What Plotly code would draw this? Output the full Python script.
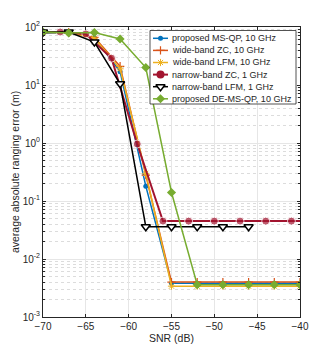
import plotly.graph_objects as go

# SNR grids (dB) at which each curve was sampled / marked
snr_a = [-70, -67, -64, -61, -58, -55, -52, -49, -46, -43, -40]
snr_red = [-68, -65, -62, -59, -56, -53, -50, -47, -44, -41, -40]
snr_black = [-70, -67, -64, -61, -58, -55, -52, -49, -46]

ms_qp = [78, 80, 65, 17, 0.18, 0.0038, 0.0038, 0.0038, 0.0038, 0.0038, 0.0038]
wide_zc = [80, 81, 66, 21, 0.28, 0.0040, 0.0040, 0.0040, 0.0040, 0.0040, 0.0040]
wide_lfm = [80, 80, 64, 19, 0.30, 0.0034, 0.0034, 0.0034, 0.0034, 0.0034, 0.0034]
narrow_zc = [82, 76, 29, 0.96, 0.045, 0.045, 0.045, 0.045, 0.045, 0.045, 0.045]
narrow_lfm = [82, 82, 55, 10.5, 0.036, 0.036, 0.036, 0.036, 0.036]
de_ms_qp = [82, 79, 80, 62, 20, 0.14, 0.0036, 0.0036, 0.0036, 0.0036, 0.0036]

names = ["proposed MS-QP, 10 GHz", "wide-band ZC, 10 GHz", "wide-band LFM, 10 GHz",
         "narrow-band ZC, 1 GHz", "narrow-band LFM, 1 GHz", "proposed DE-MS-QP, 10 GHz"]

ytick_vals = [1e-3, 1e-2, 1e-1, 1, 10, 100]
ytick_text = ["10<sup>-3</sup>", "10<sup>-2</sup>", "10<sup>-1</sup>",
              "10<sup>0</sup>", "10<sup>1</sup>", "10<sup>2</sup>"]

# red curve: marker every 3 dB only (last sample at -40 has none)
red_sizes = [8 if (x - snr_red[0]) % 3 == 0 else 0 for x in snr_red]

# styles, same order as names
styles = [
    dict(line=dict(color='#0072BD', width=1.5),
         marker=dict(symbol='circle', size=5, color='#0072BD')),
    dict(line=dict(color='#D95319', width=1.5),
         marker=dict(symbol='cross-thin', size=6, line=dict(color='#D95319', width=1.2))),
    dict(line=dict(color='#EDB120', width=1.5),
         marker=dict(symbol='asterisk', size=6, line=dict(color='#EDB120', width=1))),
    dict(line=dict(color='#A2142F', width=2),
         marker=dict(symbol='circle', size=8, color='#A2142F')),
    dict(line=dict(color='black', width=1.5),
         marker=dict(symbol='triangle-down', size=8, color='white',
                     line=dict(color='black', width=1.5))),
    dict(line=dict(color='#77AC30', width=1.5),
         marker=dict(symbol='diamond', size=7, color='#77AC30')),
]
series = [(snr_a, ms_qp), (snr_a, wide_zc), (snr_a, wide_lfm),
          (snr_red, narrow_zc), (snr_black, narrow_lfm), (snr_a, de_ms_qp)]

fig = go.Figure()
for (xs, ys), name, st in zip(series, names, styles):
    fig.add_trace(go.Scatter(x=xs, y=ys, name=name, mode='lines+markers', showlegend=False, **st))
fig.data[3].marker.size = red_sizes

# hand-made legend (matlab-style compact rows), in plot-area fractions
W, H = 257.0, 290.0           # plot area size in px
bx0, bx1 = 107 / W, 253 / W   # legend box
by1, by0 = 1 - 3.5 / H, 1 - 77 / H
row0, row_step = 1 - 11.3 / H, 12.1 / H
lx0, lx1, tx = 110 / W, 125 / W, 127 / W

fig.add_trace(go.Scatter(x=[bx0, bx1, bx1, bx0, bx0], y=[by0, by0, by1, by1, by0],
                         xaxis='x2', yaxis='y2', mode='lines', fill='toself',
                         fillcolor='white', line=dict(color='#262626', width=0.8),
                         showlegend=False, hoverinfo='skip'))
for i, (name, st) in enumerate(zip(names, styles)):
    yy = row0 - i * row_step
    fig.add_trace(go.Scatter(x=[lx0, lx1], y=[yy, yy], xaxis='x2', yaxis='y2',
                             mode='lines', line=st['line'], showlegend=False, hoverinfo='skip'))
    fig.add_trace(go.Scatter(x=[(lx0 + lx1) / 2], y=[yy], xaxis='x2', yaxis='y2',
                             mode='markers', marker=st['marker'], showlegend=False, hoverinfo='skip'))
    fig.add_annotation(x=tx, y=yy, xref='paper', yref='paper', text=name, showarrow=False,
                       xanchor='left', yanchor='middle', font=dict(size=9, color='#262626'))

# page body has an 8px margin, so the figure is 8px smaller and margins shifted
fig.update_layout(
    width=324, height=349,
    margin=dict(l=35, r=32, t=19, b=40),
    paper_bgcolor='white', plot_bgcolor='white',
    font=dict(family='Liberation Sans, Arial', size=10, color='#262626'),
    showlegend=False,
    xaxis=dict(range=[-70, -40], tickvals=[-70, -65, -60, -55, -50, -45, -40],
               title=dict(text='SNR (dB)', font=dict(size=10.5), standoff=1),
               showgrid=True, gridcolor='#e6e6e6', gridwidth=1,
               ticks='inside', ticklen=3, tickcolor='#262626',
               showline=True, linecolor='#262626', linewidth=1, mirror='ticks',
               zeroline=False, automargin=False),
    yaxis=dict(type='log', range=[-3, 2], tickvals=ytick_vals, ticktext=ytick_text,
               title=dict(text='average absolute ranging error (m)', font=dict(size=10.5), standoff=0),
               showgrid=True, gridcolor='#e6e6e6', gridwidth=1,
               ticks='inside', ticklen=3, tickcolor='#262626',
               minor=dict(dtick='D1', ticks='inside', ticklen=2, tickcolor='#262626',
                          showgrid=True, gridcolor='#dcdcdc', griddash='dot', gridwidth=1),
               showline=True, linecolor='#262626', linewidth=1, mirror='ticks',
               zeroline=False, automargin=False),
    xaxis2=dict(overlaying='x', range=[0, 1], visible=False, fixedrange=True),
    yaxis2=dict(overlaying='y', range=[0, 1], visible=False, fixedrange=True),
)

fig.write_html("out.html")
